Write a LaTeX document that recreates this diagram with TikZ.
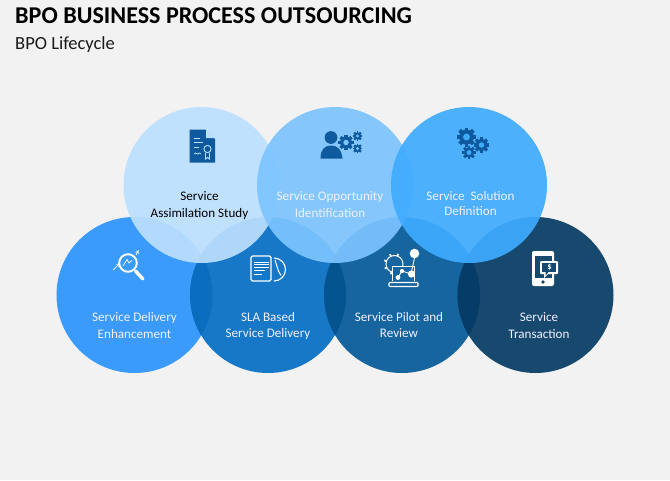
\documentclass[tikz,border=0pt]{standalone}
\usepackage{fontspec}
\usetikzlibrary{calc}
\setmainfont{Carlito}
\definecolor{pagebg}{HTML}{F2F2F2}
\definecolor{bA}{HTML}{3B9BFC}
\definecolor{bB}{HTML}{1878C8}
\definecolor{bC}{HTML}{17659F}
\definecolor{bD}{HTML}{17496F}
\definecolor{bAB}{HTML}{0A6DBE}
\definecolor{bBC}{HTML}{04548F}
\definecolor{bCD}{HTML}{053C68}
\definecolor{tA}{HTML}{BCE0FF}
\definecolor{tB}{HTML}{7CC4FF}
\definecolor{tC}{HTML}{3FABFF}
\definecolor{iconblue}{HTML}{0F5A9E}
\tikzset{
  blob/.style={circle,minimum size=156pt,inner sep=0pt,outer sep=0pt},
  topblob/.style={blob,fill opacity=.92},
  lbl/.style={font=\fontsize{13.1}{15}\selectfont,align=center,inner sep=0pt,anchor=base},
  wlbl/.style={lbl,text=white!94!blue},
}
\newcommand{\gearicon}[5]{% x,y,radius,colour,hole
  \begin{scope}[shift={(#1,#2)},scale=#3]
    \foreach \a in {0,45,...,315}
      \fill[#4,rotate=\a] (-.2,-1) rectangle (.2,1);
    \fill[#4] (0,0) circle (.78);
    \fill[#5] (0,0) circle (.36);
  \end{scope}
}
\begin{document}
\begin{tikzpicture}[x=1pt,y=-1pt]
\useasboundingbox (0,0) rectangle (670,480);
\fill[pagebg] (0,0) rectangle (670,480);
% title
\node[anchor=west,inner sep=0pt,font=\fontsize{24.1}{26}\selectfont\bfseries] (title) at (15,15.5) {BPO BUSINESS PROCESS OUTSOURCING};
\node[anchor=west,inner sep=0pt,font=\fontsize{18.5}{20}\selectfont,text=black!90] (subtitle) at (15,44.5) {BPO Lifecycle};
% bottom circles
\node[blob,fill=bA] (b1) at (134.5,295) {};
\node[blob,fill=bB] (b2) at (268,295) {};
\node[blob,fill=bC] (b3) at (402,295) {};
\node[blob,fill=bD] (b4) at (535.5,295) {};
\begin{scope}\clip (134.5,295) circle (78); \fill[bAB] (268,295) circle (78);\end{scope}
\begin{scope}\clip (268,295) circle (78); \fill[bBC] (402,295) circle (78);\end{scope}
\begin{scope}\clip (402,295) circle (78); \fill[bCD] (535.5,295) circle (78);\end{scope}
% top circles
\node[topblob,fill=tA] (t1) at (201.5,185) {};
\node[topblob,fill=tB] (t2) at (335,185) {};
\node[topblob,fill=tC] (t3) at (469,185) {};
% labels
\node[lbl,text=black] (l1) at (199.5,200.7) {Service};
\node[lbl,text=black] (l1b) at (199.5,217.3) {Assimilation Study};
\node[wlbl] (l2) at (330,200.7) {Service Opportunity};
\node[wlbl] (l2b) at (330,217) {Identification};
\node[wlbl] (l3) at (470.5,200.2) {Service\ \ Solution};
\node[wlbl] (l3b) at (470.5,215.8) {Definition};
\node[wlbl] (l4) at (134.5,321.7) {Service Delivery};
\node[wlbl] (l4b) at (134.5,338.3) {Enhancement};
\node[wlbl] (l5) at (268,321.7) {SLA Based};
\node[wlbl] (l5b) at (268,337.3) {Service Delivery};
\node[wlbl] (l6) at (399,321.7) {Service Pilot and};
\node[wlbl] (l6b) at (399,337.3) {Review};
\node[wlbl] (l7) at (539,321.7) {Service};
\node[wlbl] (l7b) at (539,338.3) {Transaction};
% icon: certificate document
\fill[iconblue] (189.5,129.5) -- (205.5,129.5) -- (215,139) -- (215,162.5) -- (189.5,162.5) -- cycle;
\fill[tA] (206,129.5) -- (214.5,138) -- (206,138) -- cycle;
\draw[tA,line width=.9] (194,138.5) -- (200,138.5) (194,142.5) -- (203,142.5) (194,147) -- (199,147);
\draw[tA,line width=.8] (194,154) .. controls (196,151) and (197,156) .. (199,153) -- (201,154);
\draw[tA,line width=.9] (207.5,149) circle (3.6);
\draw[tA,line width=.9] (205.5,152.5) -- (205.5,159) -- (207.5,157.5) -- (209.5,159) -- (209.5,152.5);
% icon: person and gears
\fill[iconblue] (331,137.5) circle (6.4);
\fill[iconblue] (320.5,158.5) .. controls (320.5,149) and (325,145.5) .. (331,145.5) .. controls (337,145.5) and (341.5,149) .. (342.5,158.5) -- cycle;
\gearicon{346}{142.5}{7.6}{iconblue}{tB}
\gearicon{357.5}{136}{4.6}{iconblue}{tB}
\gearicon{357.5}{148.5}{4.6}{iconblue}{tB}
% icon: three gears
\gearicon{466.5}{137}{9.5}{iconblue}{tC}
\gearicon{481.5}{145}{7.6}{iconblue}{tC}
\gearicon{469}{152.5}{6.6}{iconblue}{tC}
% icon: magnifier
\draw[white,line width=1.9] (128,263) circle (8.8);
\draw[white,line width=3.4,line cap=round] (135.5,271) -- (143,279);
\draw[white,line width=.7,-stealth] (113,270) -- (120,263);
\draw[white,line width=.7,-stealth] (136,255) -- (138.5,250);
\draw[white,line width=.7] (123,266) -- (127,259.5) -- (129,263) -- (132,260.5);
% icon: document and clock
\draw[white,line width=1.3,rounded corners=1.5] (251,256) rectangle (271,281);
\draw[white,line width=1] (254,262) -- (268.5,262) (254,264.5) -- (268.5,264.5) (254,267) -- (268.5,267) (254,270.5) -- (265,270.5) (254,274) -- (262,274);
\draw[white,line width=1.1] (274,258) arc (-90:90:11.5);
\draw[white,line width=1] (275,260) -- (278.5,271) -- (281,275.5);
% icon: laptop, gear, nodes
\draw[white,line width=1] (394.5,264) circle (8.5);
\foreach \a in {20,65,...,290}
  \draw[white,line width=1.8] ($(394.5,264)+(\a:8.2)$) -- ($(394.5,264)+(\a:10.8)$);
\fill[bC] (392.5,266.5) rectangle (414,282);
\draw[white,line width=1] (392.5,281) -- (392.5,266.5) -- (414,266.5) -- (414,281);
\draw[white,line width=1.1,rounded corners=.8] (389,282.5) rectangle (418,286.5);
\draw[white,line width=.9] (398,277.5) -- (402,271) -- (411,274) -- (414.5,258);
\fill[white] (414.5,253.5) circle (4.8);
\fill[white] (411.5,274) circle (3.6);
\fill[white] (398,277.5) circle (2.4);
\fill[white] (402,271) circle (2.1);
% icon: phone
\fill[white,rounded corners=2] (532,251) rectangle (554,286);
\fill[bD] (534.5,256) rectangle (551.5,278);
\fill[white,rounded corners=1] (540,261) rectangle (558,274);
\fill[white] (544,273) -- (544,278) -- (549,273) -- cycle;
\fill[bD] (541.8,262.5) rectangle (556,272.3);
\fill[bD] (545.5,272) -- (545.5,275.6) -- (548.5,272) -- cycle;
\node[inner sep=0pt,text=white,font=\fontsize{8.5}{9}\selectfont\bfseries] (dollar) at (549.5,267.5) {\$};
\fill[bD] (543,282) circle (1.9);
\end{tikzpicture}
\end{document}
